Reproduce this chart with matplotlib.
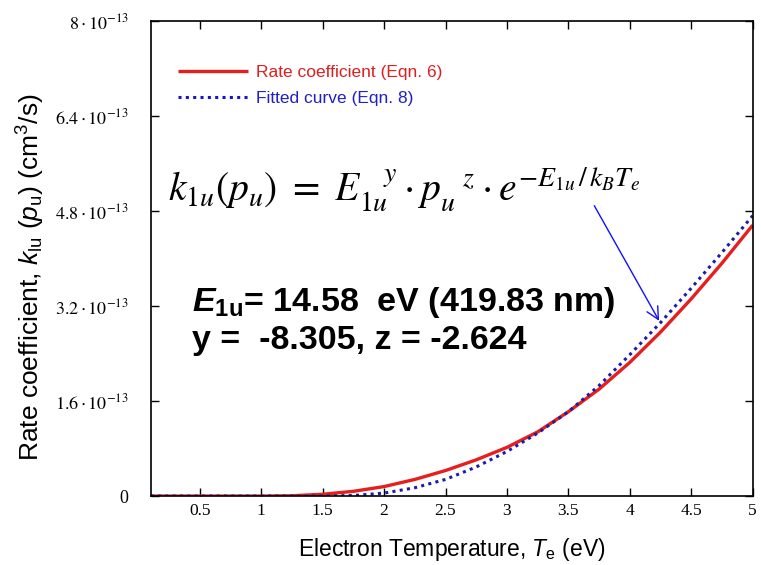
import numpy as np
import matplotlib
matplotlib.use("Agg")
import matplotlib.pyplot as plt
from matplotlib.ticker import FixedLocator, FuncFormatter

plt.rcParams['mathtext.fontset'] = 'stix'
plt.rcParams['mathtext.rm'] = 'Liberation Sans'
plt.rcParams['mathtext.it'] = 'Liberation Sans:italic'
plt.rcParams['mathtext.bf'] = 'Liberation Sans:bold'
plt.rcParams['mathtext.bfit'] = 'Liberation Sans:italic:bold'
plt.rcParams['font.family'] = 'Liberation Sans'

# electron temperature (eV)
te = [0.1, 0.5, 1.0, 1.25, 1.5, 1.75, 2.0, 2.25, 2.5, 2.75, 3.0, 3.25, 3.5,
      3.75, 4.0, 4.25, 4.5, 4.75, 5.0]
# rate coefficient, Eqn. 6 (units of 1e-13 cm^3/s)
k_rate = [0.0, 0.0, 0.0, 0.005, 0.03, 0.08, 0.16, 0.28, 0.43, 0.61, 0.82, 1.08, 1.42,
          1.80, 2.25, 2.76, 3.32, 3.92, 4.56]
# fitted curve, Eqn. 8
k_fit = [0.0, 0.0, 0.0, 0.0, 0.0, 0.01, 0.05, 0.14, 0.28, 0.49, 0.75, 1.06, 1.42,
         1.86, 2.38, 2.92, 3.50, 4.10, 4.72]

yticks = [0, 1.6, 3.2, 4.8, 6.4, 8.0]
xticks = [0.5, 1, 1.5, 2, 2.5, 3, 3.5, 4, 4.5, 5]

fig = plt.figure(figsize=(7.61, 5.65), dpi=100)
ax = fig.add_axes([0.198, 0.122, 0.791, 0.841])

te = np.array(te)
ax.plot(te, np.array(k_rate) * 1e-13, color='#e61e1e', lw=2.4,
        solid_capstyle='butt', label='Rate coefficient (Eqn. 6)')
ax.plot(te, np.array(k_fit) * 1e-13, color='#1c1ca8', lw=2.2, ls=(0, (1, 1.4)),
        label='Fitted curve (Eqn. 8)')

ax.set_xlim(0.1, 5)
ax.set_ylim(0, 8e-13)

ax.xaxis.set_major_locator(FixedLocator(xticks))
ax.yaxis.set_major_locator(FixedLocator([v * 1e-13 for v in yticks]))

def xfmt(v, pos):
    return ('%g' % v)

def yfmt(v, pos):
    m = v / 1e-13
    if abs(m) < 1e-9:
        return '0'
    return r'$%g\cdot10^{-13}$' % round(m, 2)

ax.xaxis.set_major_formatter(FuncFormatter(xfmt))
ax.yaxis.set_major_formatter(FuncFormatter(yfmt))
ax.tick_params(direction='in', length=6, width=1, top=True, right=True)
ax.tick_params(axis='x', labelsize=12.5, pad=5)
ax.tick_params(axis='y', labelsize=13, pad=16)
for lbl in ax.get_xticklabels() + ax.get_yticklabels():
    lbl.set_fontfamily('Liberation Serif')
for s in ax.spines.values():
    s.set_linewidth(1.2)

ax.set_xlabel(r'Electron Temperature, $\mathit{T}_{\mathrm{e}}$ (eV)', fontsize=16.5,
              labelpad=12, math_fontfamily='custom')
ax.set_ylabel(r'Rate coefficient, $\mathit{k}_{\mathrm{lu}}$ ($\mathit{p}_{\mathrm{u}}$) (cm$^3$/s)',
              fontsize=19, math_fontfamily='custom')
ax.yaxis.set_label_coords(-0.172, 0.46)

leg = ax.legend(loc='upper left', bbox_to_anchor=(0.02, 0.94), frameon=False,
                handlelength=4.0, labelspacing=0.6, handletextpad=0.5, fontsize=12.5)
leg.get_texts()[0].set_color('#e01e1e')
leg.get_texts()[1].set_color('#2020c8')
leg.get_lines()[1].set_color('#1515d0')

ax.text(0.028, 0.645,
        r'$k_{1u}(p_u)\ =\ E_{1u}^{\ \ \ y} \cdot p_u^{\ \ \ z} \cdot e^{-E_{1u}\,/\,k_B T_e}$',
        transform=ax.transAxes, fontsize=28.5, va='center', ha='left')

ax.text(0.068, 0.408, r'$\mathbfit{E}_{\mathbf{1u}}$= 14.58  eV (419.83 nm)',
        transform=ax.transAxes, fontsize=24.5, fontweight='bold', va='center',
        ha='left', math_fontfamily='custom')
ax.text(0.068, 0.328, 'y =  -8.305, z = -2.624',
        transform=ax.transAxes, fontsize=24.5, fontweight='bold', va='center', ha='left')

ax.annotate('', xy=(4.25, 2.91e-13), xytext=(3.70, 4.93e-13),
            arrowprops=dict(arrowstyle='->', color='#1010ff', lw=1.0, mutation_scale=22))

fig.savefig('out.png', dpi=100)
